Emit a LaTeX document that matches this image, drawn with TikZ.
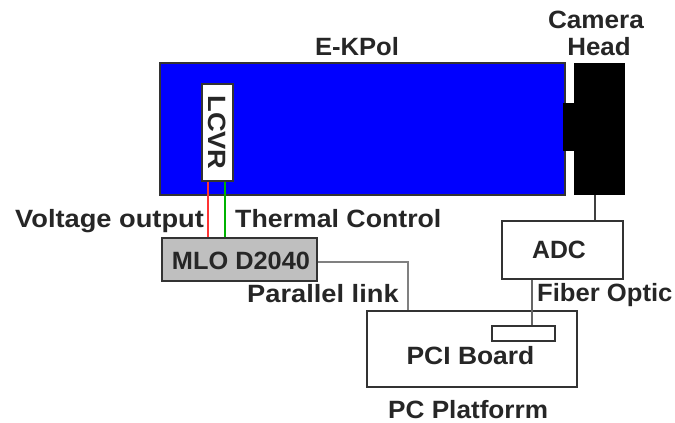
\documentclass[tikz,border=0pt]{standalone}
\usepackage{fontspec}
\setmainfont{Liberation Sans}[FakeStretch=1.09]
\usetikzlibrary{calc}
\newcommand{\sqz}[2]{\scalebox{#1}[1]{#2}}
\begin{document}
\begin{tikzpicture}[x=1pt,y=-1pt,
  every node/.style={font=\fontsize{25}{28}\selectfont\bfseries, text=black!85, inner sep=0pt},
  box/.style={draw=black!80, line width=1.5pt, minimum width=#1},
  wire/.style={line width=1.3pt}]
\useasboundingbox (0,0) rectangle (675,423);
% main housing
\node[draw=black!80, line width=1.2pt, fill=blue, minimum width=405pt, minimum height=132pt] (ekpol) at (362.5,129) {};
\fill[black] (563,103) rectangle (576,151);
\node[fill=black, minimum width=51pt, minimum height=132pt] (camera) at (599.5,129) {};
\node[box=31pt, fill=white, minimum height=97pt, line width=1.2pt] (lcvr) at (217.5,132.5) {};
\node[rotate=-90] (lcvrt) at (lcvr.center) {LCVR};
% boxes
\node[box=155pt, fill=black!25, minimum height=43pt] (mlo) at (239.5,259.5) {};
\node[anchor=base] (mlot) at (241,269) {\sqz{0.93}{MLO D2040}};
\node[box=121pt, fill=white, minimum height=58pt] (adc) at (562.5,250) {};
\node[anchor=base] (adct) at (559,258) {\sqz{0.91}{ADC}};
\node[box=210pt, fill=white, minimum height=76pt] (pc) at (472,349) {};
\node[box=63pt, fill=white, minimum height=15pt, line width=1.2pt] (pci) at (523.5,333.5) {};
\node[anchor=base] (pcit) at (470.5,364) {\sqz{0.97}{PCI Board}};
% labels
\node[anchor=base] (ekpolt) at (357,55) {\sqz{0.94}{E-KPol}};
\node[anchor=base] (camt) at (596,28) {\sqz{0.96}{Camera}};
\node[anchor=base] (headt) at (599,55) {\sqz{0.95}{Head}};
\node[anchor=base west] (volt) at (15,227) {Voltage output};
\node[anchor=base west] (thermt) at (235,227) {\sqz{0.98}{Thermal Control}};
\node[anchor=base west] (part) at (247,302) {Parallel link};
\node[anchor=base west] (fibt) at (537,301) {\sqz{0.94}{Fiber Optic}};
\node[anchor=base west] (pcpt) at (388,418) {\sqz{0.96}{PC Platforrm}};
% connectors
\draw[wire, red!80] ([xshift=-9.5pt]lcvr.south) -- ([xshift=-9.5pt]lcvr.south |- mlo.north);
\draw[wire, green!70!black] ([xshift=7.5pt]lcvr.south) -- ([xshift=7.5pt]lcvr.south |- mlo.north);
\draw[wire, black!75] ([xshift=-4.5pt]camera.south) -- ([xshift=-4.5pt]camera.south |- adc.north);
\draw[wire, black!60] ([xshift=-30.5pt]adc.south) -- ([xshift=-30.5pt]adc.south |- pci.north);
\draw[wire, black!50] ([yshift=-2.5pt]mlo.east) -| ([xshift=-64pt]pc.north);
\end{tikzpicture}
\end{document}
